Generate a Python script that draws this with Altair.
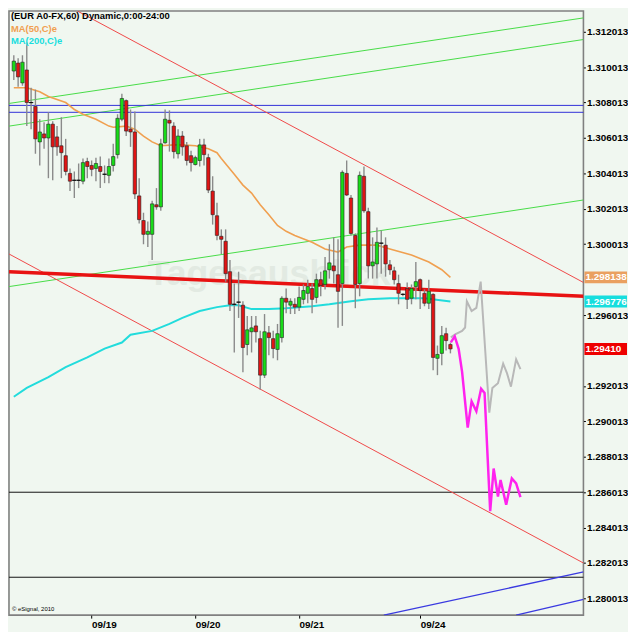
import altair as alt
import pandas as pd

# ---------------- data ----------------
opens = [1.30979, 1.31024, 1.30912, 1.30985, 1.30801, 1.30779, 1.30579, 1.30624, 1.30601, 1.30679,
         1.30607, 1.30557, 1.30501, 1.30401, 1.30362, 1.30362, 1.30357, 1.30468, 1.30446, 1.30429,
         1.30440, 1.30396, 1.30390, 1.30446, 1.30507, 1.30707, 1.30812, 1.30651, 1.30635, 1.30274,
         1.30135, 1.30057, 1.30057, 1.30224, 1.30212, 1.30574, 1.30701, 1.30668, 1.30512, 1.30612,
         1.30557, 1.30501, 1.30451, 1.30474, 1.30562, 1.30490, 1.30301, 1.30162, 1.30046, 1.30018,
         1.29846, 1.29662, 1.29674, 1.29657, 1.29435, 1.29507, 1.29540, 1.29468, 1.29262, 1.29501,
         1.29468, 1.29407, 1.29474, 1.29696, 1.29657, 1.29662, 1.29646, 1.29690, 1.29724, 1.29751,
         1.29701, 1.29801, 1.29774, 1.29857, 1.29879, 1.29829, 1.29779, 1.30401, 1.30262, 1.30051,
         1.29779, 1.30385, 1.30185, 1.29879, 1.29890, 1.30007, 1.29996, 1.29885, 1.29851, 1.29779,
         1.29718, 1.29751, 1.29696, 1.29762, 1.29801, 1.29724, 1.29668, 1.29718, 1.29357, 1.29385,
         1.29496, 1.29435]
highs = [1.31068, 1.31051, 1.31068, 1.31140, 1.30885, 1.30874, 1.30707, 1.30690, 1.30746, 1.30696,
         1.30668, 1.30718, 1.30596, 1.30429, 1.30412, 1.30457, 1.30485, 1.30490, 1.30474, 1.30490,
         1.30496, 1.30446, 1.30485, 1.30568, 1.30735, 1.30851, 1.30818, 1.30762, 1.30751, 1.30374,
         1.30179, 1.30129, 1.30246, 1.30318, 1.30596, 1.30762, 1.30757, 1.30690, 1.30651, 1.30640,
         1.30579, 1.30529, 1.30501, 1.30596, 1.30596, 1.30512, 1.30385, 1.30235, 1.30085, 1.30085,
         1.29912, 1.29779, 1.29846, 1.29679, 1.29596, 1.29596, 1.29596, 1.29512, 1.29607, 1.29540,
         1.29512, 1.29551, 1.29707, 1.29751, 1.29696, 1.29696, 1.29762, 1.29774, 1.29801, 1.29779,
         1.29835, 1.29846, 1.29929, 1.30001, 1.30040, 1.30029, 1.30418, 1.30474, 1.30279, 1.30062,
         1.30412, 1.30440, 1.30207, 1.30040, 1.30096, 1.30079, 1.30040, 1.29912, 1.29874, 1.29829,
         1.29724, 1.29785, 1.29774, 1.29901, 1.29807, 1.29746, 1.29801, 1.29724, 1.29429, 1.29540,
         1.29529, 1.29446]
lows = [1.30929, 1.30890, 1.30896, 1.30668, 1.30651, 1.30512, 1.30446, 1.30540, 1.30374, 1.30362,
        1.30501, 1.30374, 1.30390, 1.30301, 1.30262, 1.30318, 1.30340, 1.30374, 1.30385, 1.30357,
        1.30318, 1.30346, 1.30346, 1.30412, 1.30485, 1.30696, 1.30612, 1.30551, 1.30257, 1.30118,
        1.30001, 1.29985, 1.29912, 1.30196, 1.30190, 1.30568, 1.30524, 1.30485, 1.30485, 1.30501,
        1.30446, 1.30412, 1.30446, 1.30440, 1.30446, 1.30290, 1.30112, 1.30024, 1.29946, 1.29790,
        1.29624, 1.29390, 1.29585, 1.29279, 1.29374, 1.29390, 1.29446, 1.29179, 1.29246, 1.29374,
        1.29357, 1.29346, 1.29446, 1.29612, 1.29607, 1.29607, 1.29624, 1.29662, 1.29668, 1.29612,
        1.29668, 1.29707, 1.29746, 1.29807, 1.29779, 1.29529, 1.29540, 1.30274, 1.30051, 1.29640,
        1.29707, 1.30179, 1.29807, 1.29807, 1.29807, 1.29835, 1.29818, 1.29829, 1.29774, 1.29662,
        1.29707, 1.29635, 1.29662, 1.29690, 1.29635, 1.29651, 1.29635, 1.29290, 1.29262, 1.29318,
        1.29401, 1.29385]
closes = [1.31035, 1.30946, 1.31029, 1.30801, 1.30801, 1.30596, 1.30635, 1.30601, 1.30679, 1.30551,
          1.30551, 1.30518, 1.30412, 1.30357, 1.30362, 1.30362, 1.30462, 1.30440, 1.30424, 1.30457,
          1.30412, 1.30396, 1.30440, 1.30496, 1.30712, 1.30824, 1.30640, 1.30635, 1.30285, 1.30140,
          1.30057, 1.30074, 1.30229, 1.30212, 1.30568, 1.30707, 1.30685, 1.30524, 1.30612, 1.30551,
          1.30474, 1.30462, 1.30490, 1.30562, 1.30507, 1.30307, 1.30168, 1.30051, 1.30029, 1.29835,
          1.29662, 1.29662, 1.29674, 1.29418, 1.29518, 1.29529, 1.29507, 1.29262, 1.29507, 1.29474,
          1.29412, 1.29496, 1.29696, 1.29674, 1.29679, 1.29646, 1.29701, 1.29740, 1.29762, 1.29690,
          1.29801, 1.29768, 1.29851, 1.29896, 1.29851, 1.29735, 1.30407, 1.30279, 1.30062, 1.29774,
          1.30390, 1.30190, 1.29879, 1.29901, 1.30012, 1.30007, 1.29890, 1.29857, 1.29801, 1.29724,
          1.29718, 1.29690, 1.29751, 1.29790, 1.29740, 1.29668, 1.29735, 1.29362, 1.29379, 1.29485,
          1.29457, 1.29410]

ma50_i = [0, 3, 6, 8, 12, 14, 16, 19, 22, 23, 26, 28, 30, 32, 34, 37, 39, 42, 45, 47,
          48, 51, 53, 55, 57, 59, 61, 63, 65, 69, 72, 75, 77, 80, 84, 87, 92, 96, 99, 101]
ma50_p = [1.30885, 1.30885, 1.30862, 1.30835, 1.30801, 1.30762, 1.30735, 1.30707, 1.30668, 1.30662,
          1.30668, 1.30651, 1.30612, 1.30579, 1.30557, 1.30562, 1.30562, 1.30557, 1.30540, 1.30518,
          1.30485, 1.30396, 1.30335, 1.30290, 1.30224, 1.30168, 1.30107, 1.30074, 1.30051, 1.30012,
          1.29974, 1.29957, 1.29985, 1.29996, 1.29996, 1.29974, 1.29940, 1.29901, 1.29857, 1.29814]

ma200_i = [0, 3, 8, 12, 17, 21, 25, 27, 32, 36, 39, 43, 47, 50, 52, 55, 59, 63, 69, 73,
           78, 82, 87, 91, 95, 101]
ma200_p = [1.29140, 1.29190, 1.29251, 1.29307, 1.29362, 1.29412, 1.29446, 1.29490, 1.29512, 1.29551,
           1.29585, 1.29624, 1.29646, 1.29657, 1.29657, 1.29635, 1.29635, 1.29640, 1.29651, 1.29662,
           1.29679, 1.29690, 1.29696, 1.29696, 1.29696, 1.29678]

gray_i = [101.1, 102.2, 103.7, 104.4, 104.8, 105.9, 107.0, 108.0, 110.0, 110.7, 112.0, 113.2,
          114.1, 115.0, 116.2, 117.2]
gray_p = [1.29475, 1.29494, 1.29512, 1.29531, 1.29679, 1.29624, 1.29642, 1.29790, 1.29050, 1.29189,
          1.29216, 1.29327, 1.29272, 1.29197, 1.29351, 1.29296]

mag_i = [101.1, 102.0, 102.9, 103.7, 105.0, 105.9, 107.0, 108.1, 108.9, 110.2, 111.0, 112.0,
         112.6, 113.9, 115.2, 116.2, 117.2]
mag_p = [1.29447, 1.29481, 1.29411, 1.29281, 1.28966, 1.29114, 1.29058, 1.29185, 1.29161, 1.28494,
         1.28735, 1.28577, 1.28670, 1.28531, 1.28679, 1.28651, 1.28574]

# trend lines: pairs of (bar index, price) end points
red_chan_i = [[14.7, 131.8], [-1.1, 131.8]]
red_chan_p = [[1.31318, 1.29785], [1.29946, 1.28201]]
green_i = [[-1.1, 131.8], [-1.1, 131.8], [-1.1, 131.8]]
green_p = [[1.30796, 1.31279], [1.30668, 1.31157], [1.29762, 1.30251]]
thick_red_i = [[-1.1, 131.8]]
thick_red_p = [[1.29846, 1.29707]]
blue_diag_i = [[85.6, 131.8], [116.2, 131.8]]
blue_diag_p = [[1.27907, 1.28151], [1.27907, 1.27996]]
blue_h = [1.30785, 1.30746]
black_h = [1.28601, 1.28121]

x_tick_idx = [18, 42, 66, 94]
x_tick_lab = ["09/19", "09/20", "09/21", "09/24"]
# 1.298013 and 1.294013 are hidden behind the value boxes in the reference
y_ticks = [1.280013, 1.282013, 1.284013, 1.286013, 1.288013, 1.290013, 1.292013,
           1.296013, 1.300013, 1.302013, 1.304013, 1.306013, 1.308013, 1.310013,
           1.312013]

value_p = [1.298138, 1.296776, 1.29410]
value_lab = ["1.298138", "1.296776", "1.29410"]
value_col = ["#eaa060", "#16dede", "#ee0000"]

# ---------------- layout ----------------
W, H = 580, 610
X_DOMAIN = [-1.115, 131.77]
Y_DOMAIN = [1.27907, 1.31318]
BG = "#f0f7f0"
FONT = "Liberation Sans"

xs = alt.Scale(domain=X_DOMAIN, nice=False, zero=False, padding=0)
ys = alt.Scale(domain=Y_DOMAIN, nice=False, zero=False, padding=0)

lab_expr = "".join(f"datum.value == {i} ? '{l}' : " for i, l in zip(x_tick_idx, x_tick_lab)) + "''"
xaxis = alt.Axis(values=x_tick_idx, labelExpr=lab_expr, title=None, grid=False, domain=False,
                 tickColor="#000", tickSize=3, labelFont=FONT, labelFontWeight="bold",
                 labelFontSize=10, labelAlign="left", labelPadding=1, labelColor="#000",
                 labelFlush=False)
yaxis = alt.Axis(values=y_ticks, format=".6f", orient="right", title=None, grid=False,
                 domain=False, tickColor="#000", tickSize=2, labelFont=FONT,
                 labelFontWeight="bold", labelFontSize=10, labelPadding=1, labelColor="#000",
                 labelFlush=False, labelOverlap=False)


def X(f):
    return alt.X(f, type="quantitative", scale=xs, axis=xaxis)


def Y(f):
    return alt.Y(f, type="quantitative", scale=ys, axis=yaxis)


def seg_layer(ii, pp, color, width):
    rows = [{"s": k, "i": a, "p": b} for k, (ai, bp) in enumerate(zip(ii, pp)) for a, b in zip(ai, bp)]
    return alt.Chart(pd.DataFrame(rows)).mark_line(color=color, strokeWidth=width, clip=True).encode(
        x=X("i"), y=Y("p"), detail="s:N")


def path_layer(ii, pp, color, width):
    return alt.Chart(pd.DataFrame({"i": ii, "p": pp})).mark_line(
        color=color, strokeWidth=width, clip=True).encode(x=X("i"), y=Y("p"))


def hrule_layer(pp, color, width):
    return alt.Chart(pd.DataFrame({"p": pp})).mark_rule(color=color, strokeWidth=width).encode(y=Y("p"))


def text_layer(txt, x, y, color, size, weight="bold", align="left", baseline="top"):
    return alt.Chart(pd.DataFrame({"t": [txt]})).mark_text(
        color=color, fontSize=size, fontWeight=weight, font=FONT, align=align,
        baseline=baseline).encode(x=alt.value(x), y=alt.value(y), text="t:N")


n = len(opens)
cdf = pd.DataFrame({"i": list(range(n)), "o": opens, "h": highs, "l": lows, "c": closes})
cdf["dir"] = ["up" if c > o else ("down" if c < o else "flat") for o, c in zip(opens, closes)]

wicks = alt.Chart(cdf).mark_rule(color="#8a8a8a", strokeWidth=1.4).encode(
    x=X("i"), y=Y("l"), y2=alt.Y2("h"))
bodies = alt.Chart(cdf).mark_bar(size=3.4, stroke="#222", strokeWidth=0.6).encode(
    x=X("i"), y=Y("o"), y2=alt.Y2("c"),
    color=alt.Color("dir:N", scale=alt.Scale(domain=["up", "down", "flat"],
                                             range=["#18dc18", "#e01414", "#000000"]), legend=None))
flats = alt.Chart(cdf[cdf["dir"] == "flat"]).mark_tick(
    orient="horizontal", size=4.5, thickness=1.2, color="#000").encode(x=X("i"), y=Y("o"))

hh = 6.0 * (Y_DOMAIN[1] - Y_DOMAIN[0]) / H
vdf = pd.DataFrame({"p": value_p, "t": value_lab, "col": value_col})
vdf["top"] = vdf["p"] + hh
vdf["bot"] = vdf["p"] - hh
vboxes = alt.Chart(vdf).mark_rect().encode(
    x=alt.value(W + 1), x2=alt.value(W + 44), y=Y("top"), y2=alt.Y2("bot"),
    color=alt.Color("col:N", scale=None))
vtexts = alt.Chart(vdf).mark_text(align="left", baseline="middle", color="white", fontSize=10,
                                  fontWeight="bold", font=FONT).encode(
    x=alt.value(W + 2), y=Y("p"), text="t:N")

layers = [
    text_layer("Tagesausblick", 140, 277, "#e2eae2", 36, baseline="alphabetic"),
    seg_layer(green_i, green_p, "#46dc46", 1),
    hrule_layer(blue_h, "#3030d8", 1),
    hrule_layer(black_h, "#111111", 1),
    seg_layer(blue_diag_i, blue_diag_p, "#3a3ae0", 1.3),
    seg_layer(red_chan_i, red_chan_p, "#f04848", 1),
    seg_layer(thick_red_i, thick_red_p, "#e81212", 3.5),
    path_layer(ma200_i, ma200_p, "#22dcdc", 2),
    path_layer(ma50_i, ma50_p, "#f0a050", 1.6),
    wicks, bodies, flats,
    path_layer(gray_i, gray_p, "#b8b8b8", 2),
    path_layer(mag_i, mag_p, "#ff22ee", 2.5),
    vboxes, vtexts,
    text_layer("(EUR A0-FX,60) Dynamic,0:00-24:00", 2, 0.5, "#000000", 9.5),
    text_layer("MA(50,C)e", 2, 13, "#f0a050", 9.5),
    text_layer("MA(200,C)e", 2, 25.5, "#16dede", 9.5),
    text_layer("\u00a9 eSignal, 2010", 3, H - 9, "#000000", 6, weight="normal"),
]

chart = alt.layer(*layers).properties(
    width=W, height=H, background=BG,
    padding={"left": 0, "top": 0, "right": 0, "bottom": 0},
).configure_view(fill=BG, stroke="#808080", strokeWidth=1.6)

chart.save("out.html", embed_options={"renderer": "svg", "actions": False})
